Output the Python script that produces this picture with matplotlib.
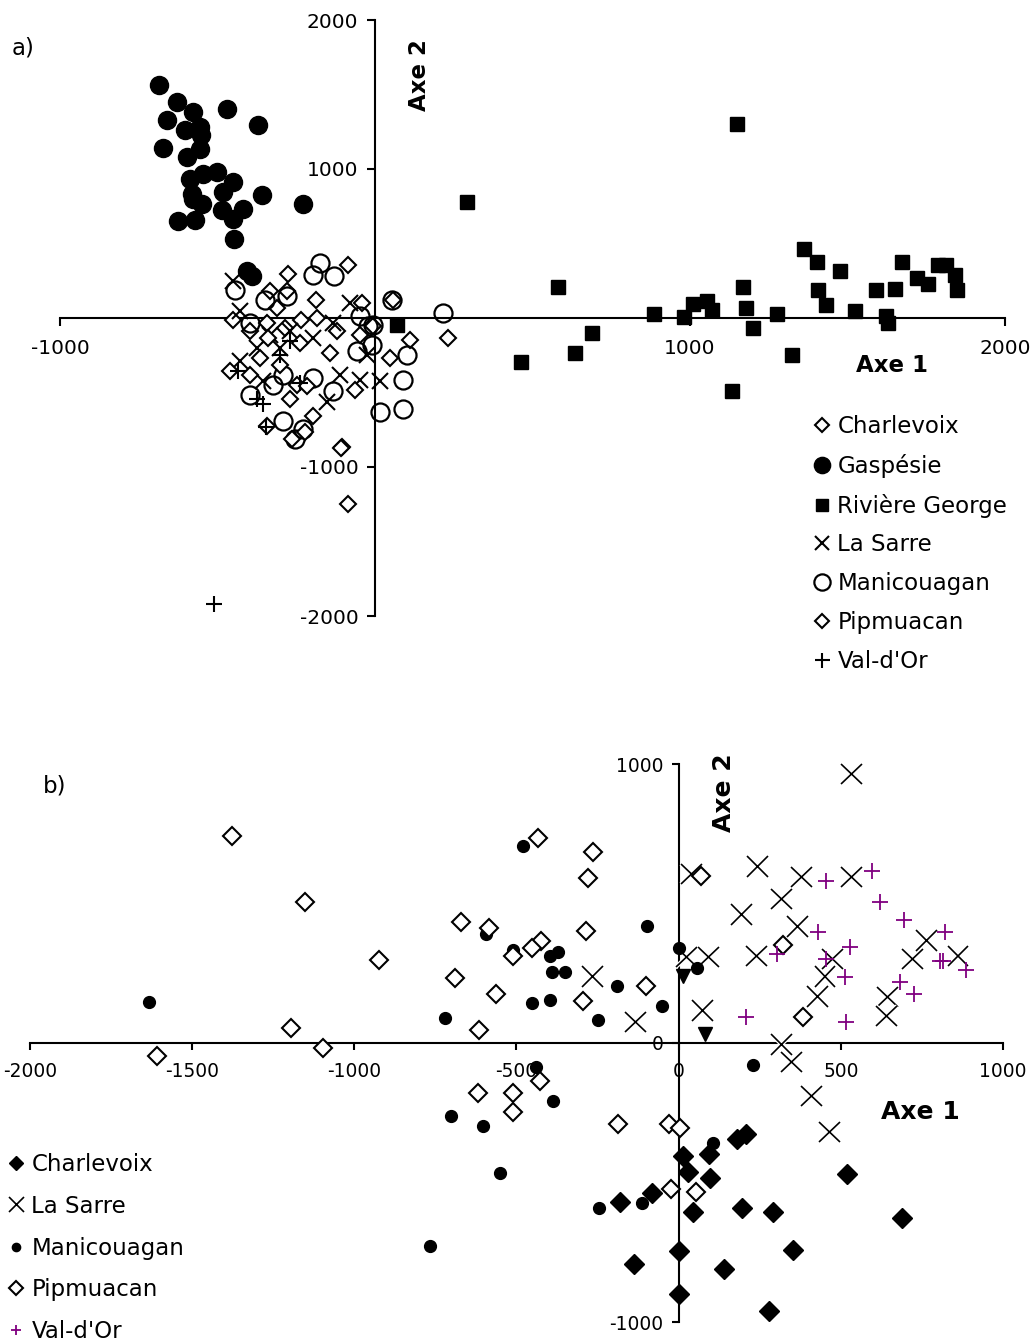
import matplotlib
matplotlib.use("Agg")
import matplotlib.pyplot as plt
import matplotlib.patheffects as pe

W, H = 1034, 1344
PURPLE = "#800080"

# ---------------- panel a) data (Axe 1, Axe 2) ----------------
a_charlevoix_x = [-86, -276, -333, -279, -187, -41, 57, -311, -451, -343, -235, -184, -397, -286, -121, -6, 111, 232]
a_charlevoix_y = [358, 297, 182, 182, 122, 101, 122, 68, -14, -34, -14, 0, -88, -68, -88, -54, -149, -135]

a_gaspesie_x = [-686, -629, -578, -470, -660, -603, -556, -552, -371, -673, -597, -556, -587, -546, -502,
                -451, -483, -578, -549, -359, -229, -625, -572, -486, -419, -451, -448, -406, -391, -581]
a_gaspesie_y = [1561, 1453, 1385, 1405, 1331, 1264, 1284, 1230, 1297, 1142, 1081, 1135, 932, 966, 980,
                912, 845, 797, 764, 824, 764, 649, 655, 723, 730, 662, 527, 318, 284, 831]

a_riviere_x = [1149, 292, 581, 70, 464, 635, 689, 886, 981, 1010, 1054, 1070, 1168, 1178, 1200, 1276, 1324,
               1133, 1362, 1403, 1407, 1432, 1476, 1524, 1591, 1622, 1629, 1651, 1673, 1721, 1756, 1788,
               1813, 1842, 1848]
a_riviere_y = [1304, 777, 210, -47, -297, -236, -101, 27, 7, 95, 115, 54, 209, 68, -68, 27, -250,
               -493, 466, 378, 189, 88, 318, 47, 189, 14, -34, 196, 378, 270, 230, 358,
               358, 291, 189]

a_lasarre_x = [-451, -429, -79, -133, -429, -111, -48, 16, -152, -25, -302, -333, -270, -356, -375, -197]
a_lasarre_y = [250, 47, 101, -34, -291, -385, -419, -426, -561, -250, -203, -115, -88, -426, -203, -135]

a_manic_x = [-175, -197, -130, -445, -349, -279, 54, 216, -397, -22, -57, -10, 102, 89, 16, 89,
             -197, -133, -292, -397, -324, -292, -254, -229, -48, -6]
a_manic_y = [372, 291, 284, 189, 122, 149, 122, 34, -34, -54, -223, -182, -250, -419, -628, -608,
             -405, -493, -385, -520, -453, -689, -811, -743, 14, -47]

a_pipmuacan_x = [-238, -143, 48, -460, -397, -302, -248, -216, -64, -340, -365, -197, -222, -264, -105,
                 -343, -270, -48, -86, -108]
a_pipmuacan_y = [-169, -236, -270, -358, -385, -318, -453, -459, -486, -135, -270, -655, -764, -811, -865,
                 -723, -541, -115, -1250, -872]

a_valdor_x = [-435, -356, -346, -375, -270, -302, -238, -511]
a_valdor_y = [-358, -574, -730, -541, -155, -250, -439, -1919]

# ---------------- panel b) data ----------------
b_charlevoix_x = [207, 179, 12, 93, 28, 96, -83, -182, 43, 194, 290, 518, 688, 0, 352, -139, 139, 0, 278]
b_charlevoix_y = [-326, -344, -405, -398, -462, -484, -538, -570, -606, -591, -606, -470, -627, -745, -742,
                  -792, -810, -900, -961]

b_lasarre_x = [-265, -133, 40, 93, 25, 74, 534, 244, 380, 534, 194, 318, 367, 241, 475, 765, 722, 861,
               451, 429, 645, 642, 318, 349, 410, 466]
b_lasarre_y = [237, 75, 606, 308, 308, 115, 964, 634, 595, 595, 462, 516, 419, 312, 301, 366, 301, 312,
               237, 168, 165, 97, -4, -68, -190, -319]

b_manic_x = [-1632, -719, -593, -512, -481, -398, -373, -392, -349, -191, -451, -398, -250, -99, -52, 0,
             56, 228, 105, -247, -114, -441, -386, -701, -602, -552, -768]
b_manic_y = [147, 90, 391, 333, 706, 312, 326, 254, 254, 204, 143, 154, 82, 419, 133, 340,
             269, -79, -358, -591, -573, -86, -208, -262, -297, -466, -728]

b_pipmuacan_x = [-1376, -1151, -923, -1194, -1096, -1608, -670, -586, -691, -562, -617, -512, -435, -265,
                 -281, -423, -451, -287, -296, -102, 68, 321, 383, -188, -31, 3, -25, 52, -429, -620,
                 -512, -512]
b_pipmuacan_y = [742, 505, 297, 54, -18, -47, 434, 412, 233, 176, 47, 312, 735, 684,
                 591, 366, 340, 401, 151, 204, 599, 351, 93, -290, -290, -305, -523, -534, -136, -179,
                 -179, -247]

b_valdor_x = [454, 596, 620, 694, 821, 429, 528, 302, 454, 512, 805, 815, 886, 682, 725, 207, 515]
b_valdor_y = [581, 616, 505, 441, 398, 398, 344, 319, 301, 237, 294, 294, 262, 219, 176, 93, 75]

b_other_x = [12, 80]
b_other_y = [240, 32]


def fx(px):
    return px / W


def fy(py):
    return 1 - py / H


def style_axes(ax, xlim, ylim, xticks, xlabels, yticks, ylabels, size, tick_len):
    ax.set_xlim(*xlim)
    ax.set_ylim(*ylim)
    ax.patch.set_visible(False)
    for s in ("top", "right"):
        ax.spines[s].set_visible(False)
    for s in ("left", "bottom"):
        ax.spines[s].set_position(("data", 0))
        ax.spines[s].set_linewidth(1.5)
        ax.spines[s].set_zorder(1)
    ax.set_xticks(xticks)
    ax.set_xticklabels(xlabels)
    ax.set_yticks(yticks)
    ax.set_yticklabels(ylabels)
    ax.tick_params(axis="x", direction="out", length=tick_len, width=1.5, pad=9, labelsize=size)
    ax.tick_params(axis="y", direction="out", length=tick_len, width=1.5, pad=6, labelsize=size)


fig = plt.figure(figsize=(W / 100, H / 100), dpi=100)

# ---------------- panel a ----------------
ax1 = fig.add_axes([fx(60), fy(616), (1005 - 60) / W, (616 - 20) / H])
style_axes(ax1, (-1000, 2000), (-2000, 2000),
           [-1000, 0, 1000, 2000], ["-1000", "", "1000", "2000"],
           [-2000, -1000, 0, 1000, 2000], ["-2000", "-1000", "", "1000", "2000"], 14.5, 6)

kw = dict(ls="none", clip_on=False, zorder=3)
ax1.plot(a_charlevoix_x, a_charlevoix_y, marker="D", ms=8, mfc="white", mec="black", mew=1.5,
         label="Charlevoix", **kw)
ax1.plot(a_gaspesie_x, a_gaspesie_y, marker="o", ms=13, mfc="black", mec="black",
         label="Gaspésie", **kw)
ax1.plot(a_riviere_x, a_riviere_y, marker="s", ms=10, mfc="black", mec="black",
         label="Rivière George", **kw)
ax1.plot(a_lasarre_x, a_lasarre_y, marker="x", ms=11, mec="black", mew=1.5,
         label="La Sarre", **kw)
ax1.plot(a_manic_x, a_manic_y, marker="o", ms=13, mfc="none", mec="black", mew=1.6,
         label="Manicouagan", **kw)
ax1.plot(a_pipmuacan_x, a_pipmuacan_y, marker="D", ms=8, mfc="white", mec="black", mew=1.5,
         label="Pipmuacan", **kw)
ax1.plot(a_valdor_x, a_valdor_y, marker="+", ms=12, mec="black", mew=1.5,
         label="Val-d'Or", **kw)

ax1.legend(loc="upper left", bbox_to_anchor=(fx(811), fy(415)), bbox_transform=fig.transFigure,
           frameon=False, fontsize=16.5, numpoints=1, markerscale=0.9, handlelength=1.0,
           handletextpad=0.15, labelspacing=0.69, borderpad=0, borderaxespad=0)

fig.text(fx(420), fy(75), "Axe 2", rotation=90, fontsize=16.5, fontweight="bold", ha="center", va="center")
fig.text(fx(892), fy(366), "Axe 1", fontsize=16.5, fontweight="bold", ha="center", va="center")
fig.text(fx(23), fy(48), "a)", fontsize=16.5, ha="center", va="center")

# ---------------- panel b ----------------
ax2 = fig.add_axes([fx(30), fy(1322), (1003 - 30) / W, (1322 - 764) / H])
style_axes(ax2, (-2000, 1000), (-1000, 1000),
           [-2000, -1500, -1000, -500, 0, 500, 1000],
           ["-2000", "-1500", "-1000", "-500", "0", "500", "1000"],
           [-1000, 0, 1000], ["-1000", "0", "1000"], 13.4, 5)

halo = [pe.withStroke(linewidth=3, foreground="white")]
ax2.plot(b_charlevoix_x, b_charlevoix_y, marker="D", ms=10, mfc="black", mec="black",
         label="Charlevoix", **kw)
ax2.plot(b_lasarre_x, b_lasarre_y, marker="x", ms=15, mec="black", mew=1.2,
         path_effects=halo, label="La Sarre", **kw)
ax2.plot(b_manic_x, b_manic_y, marker="o", ms=8.5, mfc="black", mec="black",
         label="Manicouagan", **kw)
ax2.plot(b_pipmuacan_x, b_pipmuacan_y, marker="D", ms=9.5, mfc="white", mec="black", mew=1.5,
         label="Pipmuacan", **kw)
ax2.plot(b_other_x, b_other_y, marker="v", ms=10, mfc="black", mec="black", **kw)
ax2.plot(b_valdor_x, b_valdor_y, marker="+", ms=11, mec=PURPLE, mew=1.3,
         label="Val-d'Or", **kw)

ax2.legend(loc="upper left", bbox_to_anchor=(fx(5), fy(1153)), bbox_transform=fig.transFigure,
           frameon=False, fontsize=16.5, numpoints=1, markerscale=0.7, handlelength=1.0,
           handletextpad=0.15, labelspacing=0.82, borderpad=0, borderaxespad=0)

fig.text(fx(724), fy(793), "Axe 2", rotation=90, fontsize=18, fontweight="bold", ha="center", va="center")
fig.text(fx(920), fy(1112), "Axe 1", fontsize=18, fontweight="bold", ha="center", va="center")
fig.text(fx(55), fy(786), "b)", fontsize=16.5, ha="center", va="center")

fig.savefig("out.png", dpi=100)
